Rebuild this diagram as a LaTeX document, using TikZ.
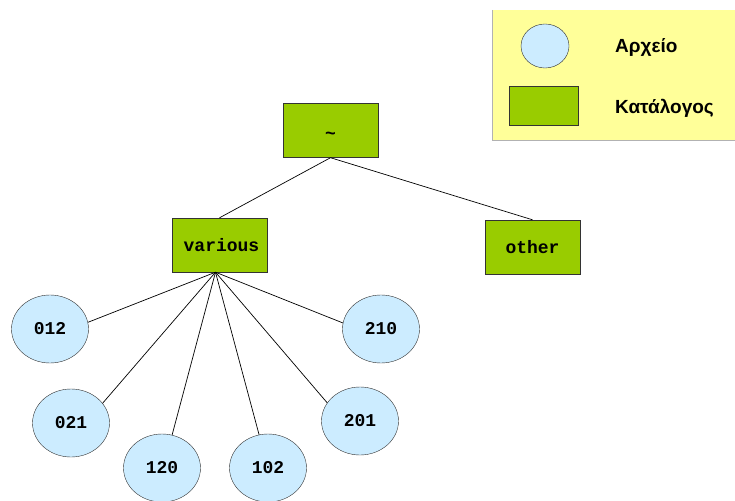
\documentclass[tikz,border=0pt]{standalone}
\usepackage{fontspec}
\setmainfont{Liberation Sans}
\setmonofont{Liberation Mono}
\usepackage{tikz}
\usetikzlibrary{positioning,shapes}
\definecolor{dirgreen}{HTML}{99CC00}
\definecolor{fileblue}{HTML}{CCECFF}
\definecolor{keyyellow}{HTML}{FFFF99}

\begin{document}
\begin{tikzpicture}[x=1pt,y=-1pt,
        dirbox/.style={rectangle,draw=black!80,fill=dirgreen,minimum width=95pt,minimum height=54pt,
            inner sep=0pt,font=\fontsize{18}{20}\selectfont\ttfamily\bfseries},
        filebox/.style={ellipse,draw=black!80,fill=fileblue,minimum width=77pt,minimum height=68pt,
            inner sep=0pt,font=\fontsize{18}{20}\selectfont\ttfamily\bfseries},
        keytext/.style={anchor=west,inner sep=0pt,font=\fontsize{19}{21}\selectfont\bfseries},
        link/.style={black,line width=0.7pt}]
            \useasboundingbox (0,0) rectangle (735,500);
            \clip (0,0) rectangle (735,500);
            % legend
            \fill[keyyellow] (492,10) rectangle (745,140);
            \draw[gray!60,line width=1pt] (492,10) -- (492,140) -- (745,140);
            \node[filebox,minimum width=48pt,minimum height=44pt] (keyfile) at (545,46) {};
            \node[dirbox,minimum width=69pt,minimum height=39pt] (keydir) at (543.5,105.5) {};
            \node[keytext] (keyfiletext) at (615,47) {Αρχείο};
            \node[keytext] (keydirtext) at (615,108) {Κατάλογος};
            % directories
            \node[dirbox] (root) at (330.5,130.5) {\raisebox{-9pt}[0pt][0pt]{\textasciitilde}};
            \node[dirbox] (various) at (219.5,245) {\hspace{4pt}various};
            \node[dirbox] (other) at (532.5,247) {other};
            \draw[link] (root.south) -- (various.north);
            \draw[link] (root.south) -- (other.north);
            % files
            \coordinate (hub) at ([xshift=-4pt]various.south);
            \foreach \name/\x/\y/\ang in {012/50/329/10, 021/71/423/32, 120/162/468/73,
                                          102/268/468/105, 201/360/421/151, 210/381/329/171} {
                \node[filebox] (f\name) at (\x,\y) {\name};
                \draw[link] (hub) -- (f\name.\ang);
            }
        \end{tikzpicture}
\end{document}
